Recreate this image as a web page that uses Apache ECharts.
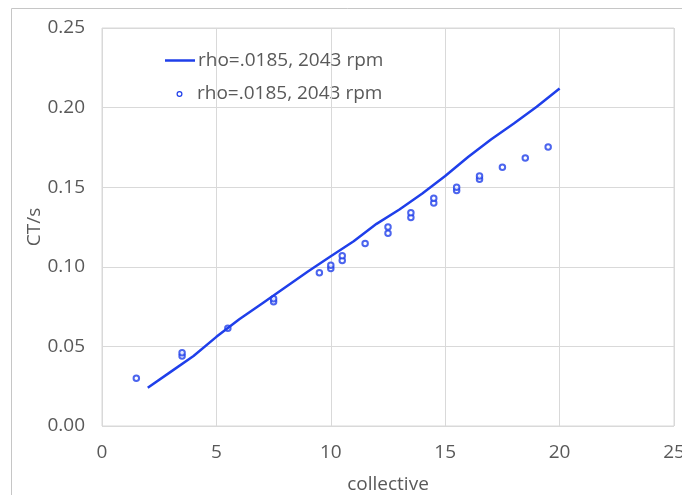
<!DOCTYPE html>
<html>
<head>
<meta charset="utf-8">
<script src="https://cdn.jsdelivr.net/npm/echarts@6/dist/echarts.min.js"></script>
<style>
  html, body { margin: 0; padding: 0; background: #fff; }
  #chart { width: 682px; height: 495px; }
</style>
</head>
<body>
<div id="chart"></div>
<script>
// Computed thrust coefficient curve (collective in degrees)
const lineCollective = [2, 3, 4, 5, 6, 7, 8, 9, 10, 11, 12, 13, 14, 15, 16, 17, 18, 19, 20];
const lineCTs = [0.024, 0.034, 0.044, 0.056, 0.067, 0.077, 0.087, 0.097, 0.1066, 0.116, 0.127, 0.136, 0.146, 0.157, 0.169, 0.180, 0.190, 0.2005, 0.212];

// Measured points
const testCollective = [1.5, 3.5, 3.5, 5.5, 7.5, 7.5, 9.5, 10, 10, 10.5, 10.5, 11.5, 12.5, 12.5, 13.5, 13.5, 14.5, 14.5, 15.5, 15.5, 16.5, 16.5, 17.5, 18.5, 19.5];
const testCTs = [0.030, 0.044, 0.046, 0.0614, 0.078, 0.080, 0.0962, 0.099, 0.101, 0.104, 0.107, 0.1146, 0.121, 0.125, 0.131, 0.134, 0.140, 0.143, 0.148, 0.150, 0.155, 0.157, 0.1625, 0.1683, 0.1752];

const seriesName = 'rho=.0185, 2043 rpm';
const xTicks = { min: 0, max: 25, step: 5 };
const yTicks = { min: 0, max: 0.25, step: 0.05 };

const blue = '#1f3fea';
const textColor = '#595959';
const gridColor = '#d9d9d9';
const font = 'Open Sans';
const fontSize = 19;

const zip = (xs, ys) => xs.map((x, i) => [x, ys[i]]);

const chart = echarts.init(document.getElementById('chart'), null, { renderer: 'canvas' });
chart.setOption({
  backgroundColor: '#fff',
  animation: false,
  graphic: [{
    type: 'rect',
    shape: { x: 11.5, y: 8.5, width: 700, height: 600 },
    style: { fill: 'none', stroke: '#c6c6c6', lineWidth: 1 },
    silent: true
  }, {
    // marker for the second legend row
    type: 'circle',
    shape: { cx: 179.5, cy: 94, r: 2.4 },
    style: { fill: '#fff', stroke: blue, lineWidth: 1.2 },
    silent: true
  }, {
    type: 'text',
    left: 197, top: 84,
    style: { text: seriesName, fill: textColor, font: fontSize + 'px "Open Sans"' },
    silent: true
  }],
  grid: {
    left: 102, right: 8, top: 28, bottom: 69,
    outerBoundsMode: 'none',
    containLabel: false,
    show: true, borderColor: gridColor, borderWidth: 1
  },
  legend: [{
    data: [{ name: seriesName, icon: 'rect' }],
    left: 165, top: 51, padding: 0,
    itemWidth: 30, itemHeight: 2.5,
    textStyle: { color: textColor, fontSize: fontSize, fontFamily: font, padding: [0, 0, 0, -2] },
    selectedMode: false
  }],
  xAxis: {
    type: 'value',
    min: xTicks.min, max: xTicks.max, interval: xTicks.step,
    name: 'collective', nameLocation: 'middle', nameGap: 49,
    nameMoveOverlap: false,
    nameTextStyle: { color: textColor, fontSize: fontSize, fontFamily: font },
    axisLine: { show: false },
    axisTick: { show: false },
    axisLabel: { color: textColor, fontSize: fontSize, fontFamily: font, margin: 17 },
    splitLine: { show: true, lineStyle: { color: gridColor, width: 1 } }
  },
  yAxis: {
    type: 'value',
    min: yTicks.min, max: yTicks.max, interval: yTicks.step,
    name: 'CT/s', nameLocation: 'middle', nameGap: 58,
    nameMoveOverlap: false,
    nameTextStyle: { color: textColor, fontSize: fontSize, fontFamily: font },
    axisLine: { show: false },
    axisTick: { show: false },
    axisLabel: { color: textColor, fontSize: fontSize, fontFamily: font, margin: 17,
      formatter: v => v.toFixed(2) },
    splitLine: { show: true, lineStyle: { color: gridColor, width: 1 } }
  },
  series: [{
    name: seriesName,
    type: 'line',
    data: zip(lineCollective, lineCTs),
    symbol: 'none',
    lineStyle: { color: blue, width: 2.5 },
    itemStyle: { color: blue }
  }, {
    name: seriesName + ' ',
    type: 'scatter',
    data: zip(testCollective, testCTs),
    symbol: 'emptyCircle',
    symbolSize: 5.5,
    itemStyle: { color: blue, borderWidth: 1.2 }
  }]
});
</script>
</body>
</html>
